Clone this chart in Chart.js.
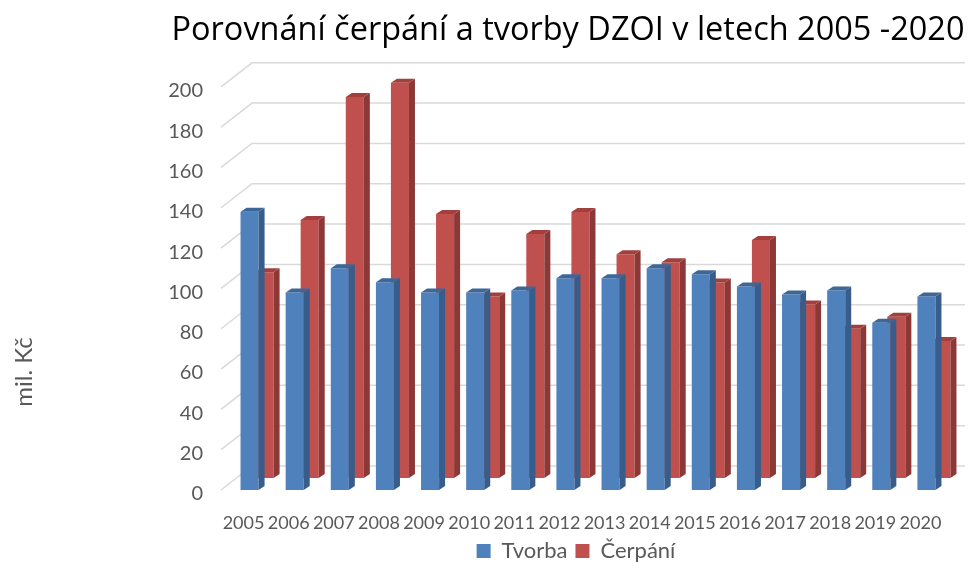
<!DOCTYPE html>
<html>
<head>
<meta charset="utf-8">
<script src="https://cdn.jsdelivr.net/npm/chart.js@4/dist/chart.umd.min.js"></script>
<style>
  html, body { margin: 0; padding: 0; background: #fff; }
  #wrap { width: 970px; height: 562px; }
</style>
</head>
<body>
<div id="wrap"><canvas id="chart" width="970" height="562"></canvas></div>
<script>
// data (mil. Kč)
const years = ['2005', '2006', '2007', '2008', '2009', '2010', '2011', '2012',
               '2013', '2014', '2015', '2016', '2017', '2018', '2019', '2020'];
const tvorba = [138, 98, 110, 103, 98, 98, 99, 105, 105, 110, 107, 101, 97, 99, 83, 96];
const cerpani = [102, 128, 189, 196, 131, 90, 121, 132, 111, 107, 97, 118, 86, 74, 80, 68];
const yMin = 0;
const yMax = 200;
const yStep = 20;

const FONT = 'Lato, "Liberation Sans", sans-serif';
const TEXT = '#595959';

// fake 3d look: front face drawn by chart.js, side + top faces by the plugin
const depth = { dx: 6, dy: 4 };
const rowShift = [{ x: 6, y: 0 }, { x: 21, y: -12 }];   // Tvorba front row, Čerpání back row
const faces = [
    { side: '#385d8a', top: '#3d6798' },
    { side: '#8c3836', top: '#a3403d' },
];
const wall = { dx: 31, dy: -24, extra: 22 };

const bars3d = {
    id: 'bars3d',
    afterLayout(chart) {
        // excel centres title / legend over the plot, not the canvas
        chart.titleBlock.left += 21.5;
        chart.titleBlock.right += 21.5;
        chart.legend.left += 29.5;
        chart.legend.right += 29.5;
    },
    beforeDatasetsDraw(chart) {
        const { ctx, chartArea, scales: { y } } = chart;
        ctx.save();
        ctx.strokeStyle = '#d9d9d9';
        ctx.lineWidth = 1.5;
        y.ticks.forEach(t => {
            const py = y.getPixelForValue(t.value);
            ctx.beginPath();
            ctx.moveTo(chartArea.left, py);
            ctx.lineTo(chartArea.left + wall.dx, py + wall.dy);
            ctx.lineTo(chartArea.right + wall.extra, py + wall.dy);
            ctx.stroke();
        });
        ctx.restore();
    },
    beforeDatasetDraw(chart, args) {
        const s = rowShift[args.index];
        chart.ctx.save();
        chart.ctx.translate(s.x, s.y);
    },
    afterDatasetDraw(chart, args) {
        const { ctx } = chart;
        const c = faces[args.index];
        args.meta.data.forEach(bar => {
            const { x, y, base, width } = bar.getProps(['x', 'y', 'base', 'width'], true);
            const l = x - width / 2;
            const r = x + width / 2;
            ctx.fillStyle = c.side;
            ctx.beginPath();
            ctx.moveTo(r, y);
            ctx.lineTo(r + depth.dx, y - depth.dy);
            ctx.lineTo(r + depth.dx, base - depth.dy);
            ctx.lineTo(r, base);
            ctx.closePath();
            ctx.fill();
            ctx.fillStyle = c.top;
            ctx.beginPath();
            ctx.moveTo(l, y);
            ctx.lineTo(l + depth.dx, y - depth.dy);
            ctx.lineTo(r + depth.dx, y - depth.dy);
            ctx.lineTo(r, y);
            ctx.closePath();
            ctx.fill();
        });
        ctx.restore();
    },
    afterDraw(chart) {
        const { ctx } = chart;
        ctx.save();
        ctx.translate(24, 372);
        ctx.rotate(-Math.PI / 2);
        ctx.font = '24px ' + FONT;
        ctx.fillStyle = TEXT;
        ctx.textAlign = 'center';
        ctx.textBaseline = 'middle';
        ctx.fillText('mil. Kč', 0, 0);
        ctx.restore();
    },
};

new Chart(document.getElementById('chart').getContext('2d'), {
    type: 'bar',
    data: {
        labels: years,
        datasets: [
            {
                label: 'Tvorba',
                data: tvorba,
                backgroundColor: '#4f81bd',
                grouped: false,
                clip: false,
                categoryPercentage: 1,
                barPercentage: 0.4,
            },
            {
                label: 'Čerpání',
                data: cerpani,
                backgroundColor: '#c0504d',
                grouped: false,
                clip: false,
                categoryPercentage: 1,
                barPercentage: 0.4,
            },
        ],
    },
    options: {
        responsive: false,
        animation: false,
        devicePixelRatio: 1,
        layout: {
            padding: { left: 150, right: 27, top: 0, bottom: 0 },
        },
        plugins: {
            title: {
                display: true,
                text: 'Porovnání čerpání a tvorby DZOI v letech 2005 -2020',
                color: '#000',
                font: { family: '"Open Sans", ' + FONT, size: 32.5, weight: 'normal' },
                padding: { top: 11.5, bottom: 36.3 },
            },
            legend: {
                position: 'bottom',
                maxHeight: 30,
                labels: {
                    color: TEXT,
                    font: { family: FONT, size: 22 },
                    boxWidth: 14,
                    boxHeight: 14,
                    padding: 8,
                },
            },
            tooltip: { enabled: false },
        },
        scales: {
            x: {
                grid: { display: false, drawTicks: false },
                border: { display: false },
                ticks: {
                    color: TEXT,
                    font: { family: FONT, size: 18 },
                    padding: 22,
                    autoSkip: false,
                    maxRotation: 0,
                },
                afterFit(scale) {
                    scale.height = 42;
                },
            },
            y: {
                min: yMin,
                max: yMax,
                grid: { display: false, drawTicks: false },
                border: { display: false },
                ticks: {
                    stepSize: yStep,
                    color: TEXT,
                    font: { family: FONT, size: 20 },
                    padding: 18,
                    labelOffset: 4,
                },
                afterFit(scale) {
                    scale.width = 71;
                },
            },
        },
    },
    plugins: [bars3d],
});
</script>
</body>
</html>
